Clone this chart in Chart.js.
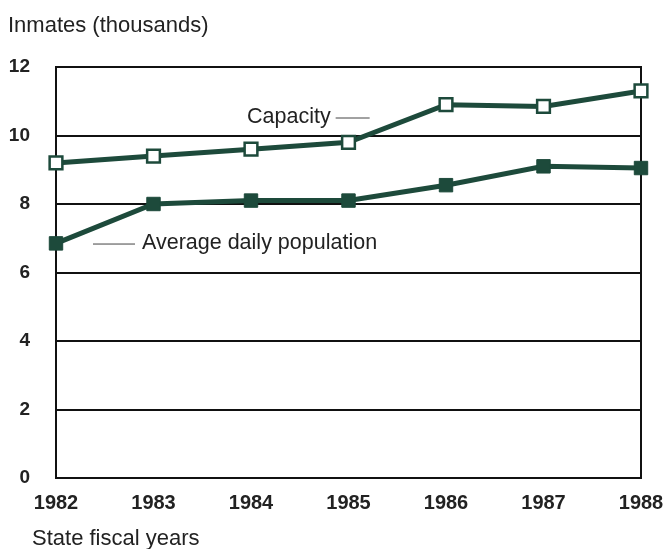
<!DOCTYPE html>
<html><head><meta charset="utf-8">
<script src="https://cdn.jsdelivr.net/npm/chart.js@4.4.1/dist/chart.umd.min.js"></script>
<style>html,body{margin:0;padding:0;background:#fff}#wrap{width:666px;height:549px}</style>
</head><body><div id="wrap"><canvas id="c" width="666" height="549"></canvas></div>
<script>
const years = ['1982','1983','1984','1985','1986','1987','1988'];
const capacity = [9.2, 9.4, 9.6, 9.8, 10.9, 10.85, 11.3];
const avgDaily = [6.85, 8.0, 8.1, 8.1, 8.55, 9.1, 9.05];
const yTicks = [0, 2, 4, 6, 8, 10, 12];
const yTitle = 'Inmates (thousands)';
const xTitle = 'State fiscal years';
const capLabel = 'Capacity';
const avgLabel = 'Average daily population';

const green = '#1d4a3b';
const txt = '#222';
const font = 'Liberation Sans, Arial, Helvetica, sans-serif';

const annot = {
  id: 'annot',
  afterDraw(chart) {
    const ctx = chart.ctx;
    const xs = chart.scales.x, ys = chart.scales.y;
    ctx.save();
    ctx.fillStyle = txt;
    ctx.font = '22px ' + font;
    ctx.textBaseline = 'alphabetic';
    ctx.textAlign = 'left';
    ctx.fillText(yTitle, 8, 32);
    ctx.fillText(xTitle, 32, 545);
    // series labels
    ctx.font = '21.5px ' + font;
    ctx.textBaseline = 'middle';
    const cx = xs.getPixelForValue(2) - 4, cy = ys.getPixelForValue(10.54);
    ctx.fillText(capLabel, cx, cy);
    const cw = ctx.measureText(capLabel).width;
    ctx.strokeStyle = '#444';
    ctx.lineWidth = 1;
    ctx.beginPath();
    ctx.moveTo(cx + cw + 5, cy + 1); ctx.lineTo(cx + cw + 39, cy + 1); ctx.stroke();
    const ax = xs.getPixelForValue(0) + 37, ay = ys.getPixelForValue(6.86);
    ctx.beginPath();
    ctx.moveTo(ax, ay + 1); ctx.lineTo(ax + 42, ay + 1); ctx.stroke();
    ctx.fillText(avgLabel, ax + 49, ay);
    ctx.restore();
  }
};

new Chart(document.getElementById('c'), {
  type: 'line',
  data: {
    labels: years,
    datasets: [
      {
        label: capLabel, data: capacity,
        borderColor: green, borderWidth: 5,
        pointStyle: 'rect', pointRadius: 9, pointBorderWidth: 2.5,
        pointBackgroundColor: '#fff', pointBorderColor: green,
        tension: 0, clip: false
      },
      {
        label: avgLabel, data: avgDaily,
        borderColor: green, borderWidth: 5,
        pointStyle: 'rect', pointRadius: 9.5, pointBorderWidth: 1,
        pointBackgroundColor: green, pointBorderColor: green,
        tension: 0, clip: false
      }
    ]
  },
  options: {
    responsive: false, animation: false,
    layout: { padding: { top: 67, right: 25, left: 0, bottom: 0 } },
    plugins: { legend: { display: false }, tooltip: { enabled: false }, title: { display: false } },
    scales: {
      x: {
        offset: false,
        grid: { display: false, drawTicks: false },
        border: { display: true, color: '#111', width: 2 },
        ticks: { color: txt, font: { family: font, size: 20, weight: 'bold' }, padding: 13, maxRotation: 0, autoSkip: false },
        afterFit(s) { s.height = 71; s.paddingLeft = 0; s.paddingRight = 0; }
      },
      y: {
        min: 0, max: 12,
        afterBuildTicks(s) { s.ticks = yTicks.map(v => ({ value: v })); },
        grid: { color: '#111', lineWidth: 2, drawTicks: false },
        border: { display: true, color: '#111', width: 2 },
        ticks: { color: txt, font: { family: font, size: 19, weight: 'bold' }, padding: 26 },
        afterFit(s) { s.width = 56; s.paddingTop = 0; s.paddingBottom = 0; }
      },
      y2: {
        position: 'right', min: 0, max: 12,
        grid: { display: false, drawTicks: false },
        border: { display: true, color: '#111', width: 2 },
        ticks: { display: false },
        afterFit(s) { s.width = 0; s.paddingTop = 0; s.paddingBottom = 0; }
      }
    }
  },
  plugins: [annot]
});
</script></body></html>
